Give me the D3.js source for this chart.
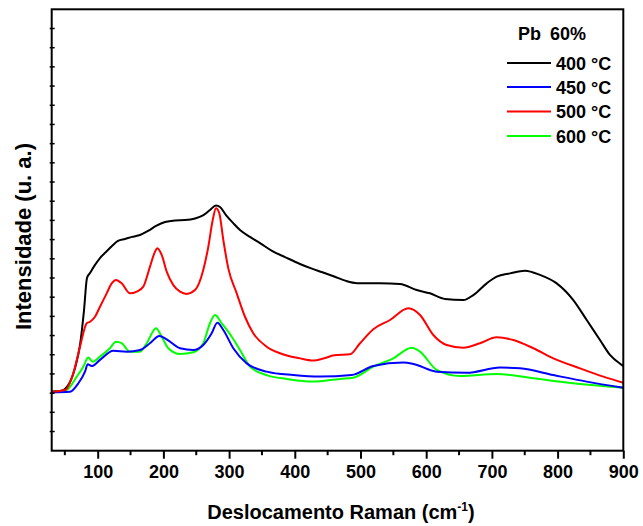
<!DOCTYPE html>
<html>
<head>
<meta charset="utf-8">
<script src="https://cdn.jsdelivr.net/npm/d3@7"></script>
<style>
  body { margin: 0; background: #fff; }
  text { font-family: Arial, "Liberation Sans", sans-serif; font-weight: bold; fill: #000; }
</style>
</head>
<body>
<div id="chart"></div>
<script>
// Raman spectra, Pb 60% (x in cm-1, y in arbitrary units)
const s400 = [
  [30, 3.08], [42.6, 3.11], [50.2, 3.22], [57.9, 3.58], [65.5, 4.31], [73.1, 5.51],
  [79.2, 7.33], [83.7, 9.0], [88.3, 9.26], [95.9, 9.68], [103.5, 10.04], [112.6, 10.35],
  [121.8, 10.67], [130.9, 10.93], [141.6, 11.03], [152.2, 11.14], [164.4, 11.24],
  [176.6, 11.45], [188.8, 11.71], [202.5, 11.92], [217.7, 12.0], [232.9, 12.02],
  [248.1, 12.1], [260.3, 12.26], [270.9, 12.54], [280.1, 12.78], [286.2, 12.7],
  [295.3, 12.28], [306, 11.87], [316.6, 11.5], [331.8, 11.14], [347, 10.82],
  [365.3, 10.41], [385.1, 10.09], [407.9, 9.73], [425, 9.5], [442, 9.3],
  [460, 9.08], [478, 8.85], [495, 8.73], [510, 8.72], [529.7, 8.72], [560.1, 8.69],
  [585.6, 8.37], [605.8, 8.2], [628.6, 7.91], [656.5, 7.85], [671.7, 8.11],
  [692.1, 8.72], [707.3, 9.07], [727.6, 9.24], [750.4, 9.38], [773.2, 9.16],
  [798.6, 8.72], [823.9, 7.85], [844.3, 6.81], [864.5, 5.77], [879.7, 4.99],
  [897.6, 4.47], [900, 4.41]
];
const s450 = [
  [30, 3.04], [57.9, 3.07], [70.5, 3.51], [80.7, 4.12], [84.8, 4.5], [90.9, 4.41],
  [103.5, 4.73], [123.8, 5.21], [144.2, 5.16], [164.4, 5.25], [179.6, 5.6],
  [193.8, 5.98], [205, 5.8], [225.3, 5.34], [245.5, 5.25], [260.7, 5.51],
  [273.5, 6.12], [282.1, 6.67], [291.2, 6.29], [306.4, 5.34], [326.8, 4.55],
  [357.2, 4.12], [397.7, 3.94], [438.4, 3.86], [486.6, 3.94], [519.5, 4.41],
  [565.2, 4.59], [580.4, 4.52], [616, 4.12], [661.7, 4.06], [712.3, 4.33],
  [742.8, 4.29], [793.5, 3.94], [844.3, 3.6], [900, 3.28]
];
const s500 = [
  [30, 3.07], [50.2, 3.16], [62.9, 4.03], [73.1, 5.42], [83.3, 6.64], [88.3, 6.72],
  [95.9, 6.98], [103.5, 7.5], [113.7, 8.2], [121.3, 8.72], [127.9, 8.9], [136.5, 8.72],
  [149.2, 8.2], [159.4, 8.29], [169.4, 8.55], [179.6, 9.59], [187.2, 10.37],
  [190.7, 10.55], [197.4, 10.2], [205, 9.33], [215.1, 8.63], [225.3, 8.29],
  [235.5, 8.17], [248.1, 8.37], [260.7, 9.42], [268.4, 10.63], [275.1, 12.02],
  [280.1, 12.63], [285.1, 12.37], [291.2, 10.98], [298.8, 9.5], [311.6, 8.2],
  [324.2, 6.98], [336.8, 6.12], [357.2, 5.42], [377.5, 5.08], [407.9, 4.81],
  [428.2, 4.7], [445, 4.82], [460, 4.97], [484, 5.02], [499.3, 5.6], [519.5, 6.33],
  [544.9, 6.81], [572.8, 7.42], [590.6, 7.07], [610.8, 6.03], [631.2, 5.51],
  [656.5, 5.37], [681.9, 5.6], [707.3, 5.91], [732.6, 5.77], [763, 5.34],
  [793.5, 4.81], [834, 4.29], [869.6, 3.86], [900, 3.54]
];
const s600 = [
  [30, 3.04], [52.8, 3.16], [68.1, 3.86], [78.1, 4.38], [85.7, 4.85], [92.4, 4.64],
  [103.5, 4.9], [118.7, 5.34], [127.9, 5.68], [136.5, 5.6], [149.2, 5.16],
  [164.4, 5.16], [174.6, 5.6], [188.8, 6.38], [197.4, 5.94], [207.5, 5.34],
  [225.3, 5.04], [245.5, 5.13], [260.7, 5.6], [270.9, 6.64], [278.5, 7.07],
  [288.7, 6.64], [304, 5.94], [316.6, 5.25], [331.8, 4.38], [357.2, 3.94],
  [387.7, 3.74], [428.2, 3.6], [468.8, 3.74], [489.1, 3.8], [519.5, 4.38],
  [549.9, 4.81], [577.9, 5.37], [590.6, 5.16], [616, 4.21], [651.5, 3.89],
  [707.3, 4.0], [763, 3.77], [823.9, 3.51], [900, 3.28]
];

const seriesNames = ['400 °C', '450 °C', '500 °C', '600 °C'];
const seriesColors = ['#000000', '#0000ff', '#ff0000', '#00ff00'];
const seriesData = [s400, s450, s500, s600];
const drawOrder = [0, 3, 1, 2];  // red on top, then blue over green

const xMajor = [100, 200, 300, 400, 500, 600, 700, 800, 900];
const xMinor = [50, 150, 250, 350, 450, 550, 650, 750, 850];
const yTicks = d3.range(1, 23);

const width = 643;
const height = 526;
const margin = { top: 9.3, right: 19.7, bottom: 75.3, left: 51.7 };
const innerW = width - margin.left - margin.right;
const innerH = height - margin.top - margin.bottom;

const svg = d3.select('#chart').append('svg')
  .attr('width', width)
  .attr('height', height);

svg.append('rect').attr('width', width).attr('height', height).attr('fill', '#fff');

const g = svg.append('g')
  .attr('transform', `translate(${margin.left},${margin.top})`);

const x = d3.scaleLinear().domain([30, 900]).range([0, innerW]);
const y = d3.scaleLinear().domain([0, 23]).range([innerH, 0]);

// curves
const line = d3.line()
  .x(d => x(d[0]))
  .y(d => y(d[1]))
  .curve(d3.curveMonotoneX);

drawOrder.forEach(i => {
  g.append('path')
    .datum(seriesData[i])
    .attr('fill', 'none')
    .attr('stroke', seriesColors[i])
    .attr('stroke-width', 2)
    .attr('stroke-linejoin', 'round')
    .attr('d', line);
});

// frame
g.append('rect')
  .attr('width', innerW)
  .attr('height', innerH)
  .attr('fill', 'none')
  .attr('stroke', '#000')
  .attr('stroke-width', 2);

// bottom axis
const xAxis = g.append('g').attr('transform', `translate(0,${innerH})`);
xAxis.call(d3.axisBottom(x).tickValues(xMajor).tickSize(8).tickPadding(7).tickFormat(d3.format('d')));
xAxis.select('.domain').remove();
xAxis.selectAll('line').attr('stroke-width', 2);
xAxis.selectAll('text').attr('font-size', 18).attr('font-family', null);
xAxis.selectAll('.minor')
  .data(xMinor)
  .enter().append('line')
  .attr('x1', d => x(d)).attr('x2', d => x(d))
  .attr('y1', 0).attr('y2', 4.5)
  .attr('stroke', '#000')
  .attr('stroke-width', 2);

// left axis: unlabelled ticks
g.append('g')
  .selectAll('line')
  .data(yTicks)
  .enter().append('line')
  .attr('x1', -2).attr('x2', 3)
  .attr('y1', d => y(d)).attr('y2', d => y(d))
  .attr('stroke', '#000')
  .attr('stroke-width', 1.5);

// axis titles
const xTitle = svg.append('text')
  .attr('x', (209 + 473) / 2)
  .attr('y', 519)
  .attr('text-anchor', 'middle')
  .attr('font-size', 20);
xTitle.append('tspan').text('Deslocamento Raman (cm');
xTitle.append('tspan').attr('font-size', 12).attr('dy', -8).text('-1');
xTitle.append('tspan').attr('dy', 8).text(')');

svg.append('text')
  .attr('transform', `translate(30.5,${(135 + 338) / 2}) rotate(-90)`)
  .attr('text-anchor', 'middle')
  .attr('font-size', 22)
  .text('Intensidade (u. a.)');

// legend
const legend = svg.append('g');
legend.append('text')
  .attr('x', 518)
  .attr('y', 39.5)
  .attr('font-size', 18)
  .attr('word-spacing', 4)
  .text('Pb 60%');

const rowY = [63, 87, 111.5, 136];
seriesNames.forEach((name, i) => {
  legend.append('line')
    .attr('x1', 507).attr('x2', 551)
    .attr('y1', rowY[i]).attr('y2', rowY[i])
    .attr('stroke', seriesColors[i])
    .attr('stroke-width', 2);
  legend.append('text')
    .attr('x', 556)
    .attr('y', rowY[i] + 6.5)
    .attr('font-size', 18)
    .text(name);
});
</script>
</body>
</html>
